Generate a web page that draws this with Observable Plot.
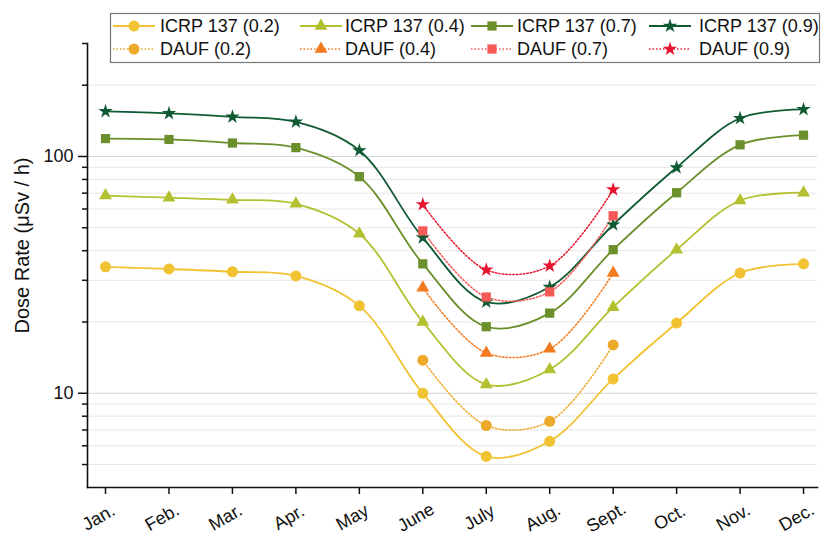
<!DOCTYPE html>
<html><head><meta charset="utf-8">
<script src="https://cdn.jsdelivr.net/npm/d3@7"></script>
<script src="https://cdn.jsdelivr.net/npm/@observablehq/plot@0.6"></script>
<style>
body{margin:0;background:#fff;font-family:"Liberation Sans",Arial,sans-serif;}
#wrap{position:relative;width:824px;height:536px;}
#legend{position:absolute;left:0;top:0;pointer-events:none;}
</style></head><body><div id="wrap"></div>
<script>
const months = ["Jan.","Feb.","Mar.","Apr.","May","June","July","Aug.","Sept.","Oct.","Nov.","Dec."];
const icrp02 = [34.2, 33.5, 32.6, 31.3, 23.4, 10.0, 5.41, 6.27, 11.5, 19.8, 32.2, 35.2];
const icrp04 = [68.4, 67.0, 65.6, 63.1, 47.2, 20.0, 10.9, 12.6, 23.1, 40.4, 65.2, 70.3];
const icrp07 = [119, 118, 114, 109, 82.2, 35.2, 19.1, 21.8, 40.4, 70.3, 112, 123];
const icrp09 = [155, 152, 147, 140, 106, 45.4, 24.3, 28.1, 51.5, 89.8, 145, 158];
const daufMonths = ["June","July","Aug.","Sept."];
const dauf02 = [13.8, 7.31, 7.61, 16.0];
const dauf04 = [27.9, 14.8, 15.4, 32.2];
const dauf07 = [48.5, 25.5, 26.8, 56.2];
const dauf09 = [62.7, 33.2, 34.5, 72.4];
const yMajor = [10, 100];
const yMinor = [5, 6, 7, 8, 9, 20, 30, 40, 50, 60, 70, 80, 90, 200, 300];
const yGrid = [5, 6, 7, 8, 9, 20, 30, 40, 50, 60, 70, 80, 90, 200];

const series = [
  {name:"ICRP 137 (0.2)", months: months, values: icrp02, color:"#f1c232", symbol:"circle", r:5.5, dash:null},
  {name:"ICRP 137 (0.4)", months: months, values: icrp04, color:"#b3c130", symbol:"triangle", r:4.8, dash:null},
  {name:"ICRP 137 (0.7)", months: months, values: icrp07, color:"#6a8f2b", symbol:"square", r:5.2, dash:null},
  {name:"ICRP 137 (0.9)", months: months, values: icrp09, color:"#0f5a32", symbol:"star", r:4.5, dash:null},
  {name:"DAUF (0.2)", months: daufMonths, values: dauf02, color:"#eda92a", symbol:"circle", r:5.5, dash:"1.5,2"},
  {name:"DAUF (0.4)", months: daufMonths, values: dauf04, color:"#f27a20", symbol:"triangle", r:4.8, dash:"1.5,2"},
  {name:"DAUF (0.7)", months: daufMonths, values: dauf07, color:"#f65a56", symbol:"square", r:5.2, dash:"1.5,2"},
  {name:"DAUF (0.9)", months: daufMonths, values: dauf09, color:"#e8132f", symbol:"star", r:4.5, dash:"1.5,2"}
];
const toRows = s => s.values.map((v, i) => ({x: months.indexOf(s.months[i]), y: v}));

const marks = [
  Plot.ruleY(yGrid, {stroke:"#e6e6e6", strokeWidth:1}),
  Plot.ruleY(yMajor, {stroke:"#d6d6d6", strokeWidth:1}),
];
for (const s of series) {
  const rows = toRows(s);
  marks.push(Plot.line(rows, {x:"x", y:"y", stroke:s.color, strokeWidth: s.dash ? 1.5 : 1.8, strokeDasharray: s.dash, curve:"catmull-rom"}));
}
for (const s of series) {
  const rows = toRows(s);
  marks.push(Plot.dot(rows, {x:"x", y:"y", fill:s.color, stroke:"none", symbol:s.symbol, r:s.r}));
}
marks.push(
  Plot.axisY({ticks: yMinor, tickSize: 5, tickFormat: () => "", label: null, strokeWidth: 1.5}),
  Plot.axisY({ticks: yMajor, tickSize: 9, tickPadding: 5, tickFormat: d => String(d), label: null, fontSize: 18, strokeWidth: 1.5}),
  Plot.axisX({ticks: d3.range(12), tickSize: 7, tickFormat: () => "", label: null, strokeWidth: 1.5}),
  Plot.frame({anchor:"left", stroke:"#111", strokeWidth:1.6}),
  Plot.frame({anchor:"bottom", stroke:"#111", strokeWidth:1.6}),
  Plot.text(months.map((m, i) => ({m, i})), {x:"i", text:"m", frameAnchor:"bottom", dy:35, dx:-4, rotate:-30, fontSize:18, textAnchor:"middle"}),
  Plot.text(["Dose Rate (\u03bcSv / h)"], {frameAnchor:"left", dx:-65, dy:-20, rotate:-90, fontSize:20, textAnchor:"middle"})
);

const chart = Plot.plot({
  width: 824, height: 536,
  marginLeft: 87, marginRight: 7, marginTop: 43, marginBottom: 49,
  x: {type:"linear", domain:[-0.284, 11.22]},
  y: {type:"log", domain:[4, 300]},
  style: {fontFamily:"'Liberation Sans', Arial, sans-serif", fontSize:"18px", color:"#111", background:"transparent"},
  marks
});
document.getElementById("wrap").appendChild(chart);

// Legend overlay
const legendCols = [
  {mx:134, tx:160}, {mx:321, tx:345}, {mx:492, tx:517}, {mx:670, tx:699}
];
const rowsY = [26, 49];
const lsvg = d3.select("#wrap").append("svg").attr("id","legend").attr("width",824).attr("height",536)
  .style("font-family","'Liberation Sans', Arial, sans-serif");
lsvg.append("rect").attr("x",110.5).attr("y",13.5).attr("width",709).attr("height",49)
  .attr("fill","#fff").attr("stroke","#777").attr("stroke-width",1.2);
const symMap = {circle:d3.symbolCircle, triangle:d3.symbolTriangle, square:d3.symbolSquare, star:d3.symbolStar};
series.forEach((s, k) => {
  const row = k < 4 ? 0 : 1, col = k % 4;
  const y = rowsY[row], c = legendCols[col];
  lsvg.append("line").attr("x1", c.mx - 21).attr("x2", c.mx + 21).attr("y1", y).attr("y2", y)
    .attr("stroke", s.color).attr("stroke-width", s.dash ? 1.5 : 1.8).attr("stroke-dasharray", s.dash);
  lsvg.append("path").attr("d", d3.symbol(symMap[s.symbol], Math.PI * s.r * s.r)())
    .attr("transform", `translate(${c.mx},${y})`).attr("fill", s.color);
  lsvg.append("text").attr("x", c.tx).attr("y", y).attr("dy","0.35em").attr("font-size",18).attr("fill","#111").text(s.name);
});
</script></body></html>
